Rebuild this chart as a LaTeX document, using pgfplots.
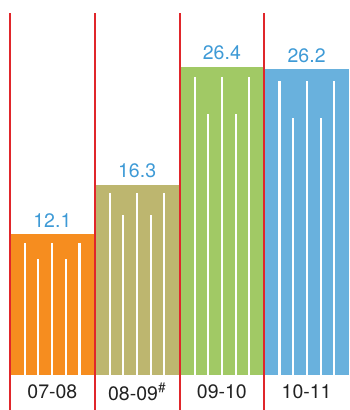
\documentclass[border=0pt]{standalone}
\usepackage{fontspec}
\setmainfont{TeX Gyre Heros}
\usepackage{pgfplots}
\pgfplotsset{compat=1.18}

\definecolor{barOrange}{HTML}{F68D1F}
\definecolor{barKhaki}{HTML}{BDB66F}
\definecolor{barGreen}{HTML}{A1C965}
\definecolor{barBlue}{HTML}{69B1DD}
\definecolor{divRed}{HTML}{E0262B}
\definecolor{valBlue}{HTML}{3E9AD6}
\definecolor{catText}{HTML}{222222}

\begin{document}
\begin{tikzpicture}
\begin{axis}[
  scale only axis,
  width=349pt, height=410pt,
  xmin=-0.618, xmax=3.5,
  ymin=-3.0, ymax=32.1,
  axis lines=none,
  ticks=none,
  unbounded coords=jump,
  every axis plot/.append style={mark=none},
  valuelabel/.style={
    nodes near coords,
    every node near coord/.append style={
      font=\fontsize{19.5}{22}\selectfont, text=valBlue,
      /pgf/number format/assume math mode=true,
      /pgf/number format/fixed, /pgf/number format/precision=1,
      anchor=south, yshift=3pt},
  },
]
% keep the whole plotting area in the picture
\path (rel axis cs:0,0) rectangle (rel axis cs:1,1);

% bars, one per season
\addplot[ybar, bar width=1, bar shift=0pt, draw=none, fill=barOrange, valuelabel]
  coordinates {(0,12.1)};
\addplot[ybar, bar width=1, bar shift=0pt, draw=none, fill=barKhaki, valuelabel]
  coordinates {(1,16.3)};
\addplot[ybar, bar width=1, bar shift=0pt, draw=none, fill=barGreen, valuelabel]
  coordinates {(2,26.4)};
\addplot[ybar, bar width=1, bar shift=0pt, draw=none, fill=barBlue, valuelabel]
  coordinates {(3,26.2)};

% white stripes inside the bars (long and short)
\addplot[ycomb, white, line width=2.2pt] coordinates {
  (-0.32,11.3) (0,11.3) (0.32,11.3)
  (-0.165,9.9) (0.165,9.9)
  (0.68,15.6) (1,15.6) (1.32,15.6)
  (0.835,13.7) (1.165,13.7)
  (1.68,25.5) (2,25.5) (2.32,25.5)
  (1.835,22.3) (2.165,22.3)
  (2.68,25.2) (3,25.2) (3.32,25.2)
  (2.835,22.0) (3.165,22.0)
};

% red dividers
\addplot[divRed, line width=2pt] coordinates {
  (-0.5,-3.2) (-0.5,31.0) (-0.5,nan)
  (0.5,-3.2) (0.5,31.0) (0.5,nan)
  (1.5,-3.2) (1.5,31.0) (1.5,nan)
  (2.5,-3.2) (2.5,31.0)
};

% season labels
\addplot[draw=none, nodes near coords, point meta=explicit symbolic,
  every node near coord/.append style={
    font=\fontsize{19.5}{22}\selectfont, text=catText, anchor=center}]
  coordinates {
    (0,-1.45) [07-08]
    (1,-1.45) [08-09\textsuperscript{\#}]
    (2,-1.45) [09-10]
    (3,-1.45) [10-11]
  };
\end{axis}
\end{tikzpicture}
\end{document}
